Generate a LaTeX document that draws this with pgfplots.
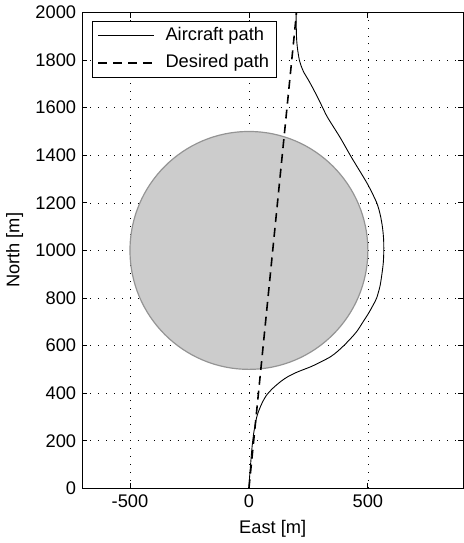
\documentclass[border=0pt]{standalone}
\usepackage{fontspec}
\setmainfont{Liberation Sans}
\usepackage{pgfplots}
\pgfplotsset{compat=1.18}
\newcommand{\chartfont}{\fontsize{18.5}{21}\selectfont}
\begin{document}
\chartfont
\begin{tikzpicture}
\begin{axis}[
  set layers,
  scale only axis,
  width=384bp, height=480bp,
  xmin=-700, xmax=900, ymin=0, ymax=2000,
  xtick={-500,0,500}, ytick={0,200,...,2000},
  grid=major,
  grid style={black, line width=0.6bp, dash pattern=on 0.8bp off 7.2bp},
  axis line style={line width=1bp},
  tick align=inside, major tick length=5bp,
  tick style={black, line width=0.8bp},
  xlabel={East [m]}, ylabel={North [m]},
  /pgf/number format/assume math mode=true,
  /pgf/number format/set thousands separator={},
  scaled ticks=false,
  ticklabel style={font=\chartfont},
  label style={font=\chartfont},
  legend cell align=left,
  legend style={at={(0.026,0.983)}, anchor=north west, draw=black, line width=0.6bp,
    font=\chartfont, inner xsep=5bp, inner ysep=4.5bp,
    nodes={inner sep=2bp}, row sep=7.5bp, column sep=9bp},
  legend image code/.code={\draw[#1] (3bp,0bp) -- (59bp,0bp);},
]
\coordinate (sw) at (rel axis cs:0,0);
\addplot[forget plot, on layer=pre main, mark layer=pre main, only marks, mark=*, mark size=120bp,
  mark options={fill=black!20, draw=black!42, line width=1.2bp}] coordinates {(0,1000)};
\addplot[black, line width=0.9bp, smooth] coordinates {
(0,0) (3,50) (7,100) (11,150) (16,200) (23,250) (33,300) (43,330) (56,360) (73,390)
(100,420) (135,450) (165,470) (204,489) (260,511) (300,530) (343,553) (372,575)
(399,600) (428,630) (454,660) (480,700) (503,736) (522,770) (537,800) (551,850)
(559,900) (565,950) (567,1000) (566,1050) (561,1100) (552,1150) (537,1201)
(503,1271) (475,1319) (450,1360) (426,1400) (385,1472) (355,1520) (329,1562)
(310,1600) (298,1625) (270,1680) (248,1720) (230,1750) (218,1780) (212,1800)
(204,1850) (200,1900) (198,2000)
};
\addlegendentry{Aircraft path}
\addplot[black, line width=1.6bp, dash pattern=on 9bp off 6bp] coordinates {(0,0) (200,2000)};
\addlegendentry{Desired path}
\end{axis}
\path (sw) ++(-83bp,-53bp) rectangle ++(467bp,543bp);
\end{tikzpicture}
\end{document}
